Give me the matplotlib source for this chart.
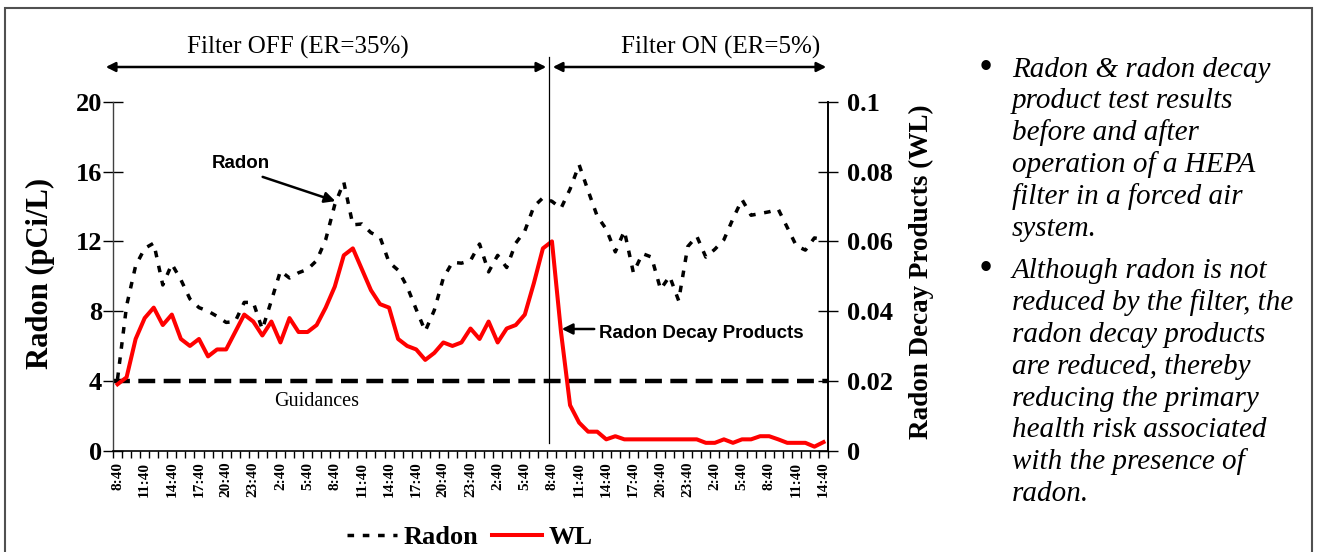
import numpy as np
import matplotlib
matplotlib.use('Agg')
import matplotlib.pyplot as plt
from matplotlib.lines import Line2D
from matplotlib.patches import Rectangle, FancyArrowPatch

W, H = 1317, 552

# hourly readings, 8:40 day 1 -> 14:40 day 4
radon = [4.1, 8.3, 10.6, 11.6, 11.9, 9.5, 10.7, 9.8, 8.7, 8.2,
         8.0, 7.7, 7.35, 7.4, 8.5, 8.5, 6.95, 8.6, 10.3, 9.9,
         10.2, 10.4, 10.9, 12.1, 14.1, 15.4, 12.95, 13.0, 12.5, 12.25,
         10.8, 10.35, 9.4, 8.1, 6.85, 8.05, 9.9, 10.8, 10.75, 10.9,
         11.85, 10.25, 11.2, 10.5, 11.9, 12.6, 14.0, 14.5, 14.3, 13.9,
         15.0, 16.4, 14.9, 13.45, 12.7, 11.4, 12.6, 10.2, 11.3, 11.1,
         9.25, 10.0, 8.6, 11.7, 12.3, 11.1, 11.55, 12.1, 13.3, 14.4,
         13.5, 13.6, 13.7, 13.85, 12.8, 11.75, 11.5, 12.2, 12.1]

wl = [0.019, 0.021, 0.032, 0.038, 0.041, 0.036, 0.039, 0.032, 0.030, 0.032,
      0.027, 0.029, 0.029, 0.034, 0.039, 0.037, 0.033, 0.037, 0.031, 0.038,
      0.034, 0.034, 0.036, 0.041, 0.047, 0.056, 0.058, 0.052, 0.046, 0.042,
      0.041, 0.032, 0.030, 0.029, 0.026, 0.028, 0.031, 0.030, 0.031, 0.035,
      0.032, 0.037, 0.031, 0.035, 0.036, 0.039, 0.048, 0.058, 0.060, 0.034,
      0.013, 0.008, 0.0054, 0.0054, 0.0032, 0.0041, 0.0032, 0.0032, 0.0032, 0.0032,
      0.0032, 0.0032, 0.0032, 0.0032, 0.0032, 0.0022, 0.0022, 0.0032, 0.0022, 0.0032,
      0.0032, 0.0041, 0.0041, 0.0032, 0.0022, 0.0022, 0.0022, 0.0011, 0.0024]

time_labels = ['8:40', '11:40', '14:40', '17:40', '20:40', '23:40', '2:40', '5:40',
               '8:40', '11:40', '14:40', '17:40', '20:40', '23:40', '2:40', '5:40',
               '8:40', '11:40', '14:40', '17:40', '20:40', '23:40', '2:40', '5:40',
               '8:40', '11:40', '14:40']
LABEL_STEP = 3
GUIDANCE = 4          # pCi/L  (= 0.02 WL)

bullets = [
    ['Radon & radon decay', 'product test results', 'before and after',
     'operation of a HEPA', 'filter in a forced air', 'system.'],
    ['Although radon is not', 'reduced by the filter, the', 'radon decay products',
     'are reduced, thereby', 'reducing the primary', 'health risk associated',
     'with the presence of', 'radon.'],
]

SERIF = 'Liberation Serif'
SANS = 'Liberation Sans'
RADON_DASH = (1.9, 2.5)


def fx(px):
    return px / W


def fy(py):
    return 1 - py / H


fig = plt.figure(figsize=(W / 100, H / 100), dpi=100)
ax = fig.add_axes([fx(113), fy(450.5), (828 - 113) / W, (450.5 - 102) / H])
ax2 = ax.twinx()

x = np.arange(len(radon))

# guidance level
ax.axhline(GUIDANCE, color='black', lw=3.2, dashes=(3.8, 1.9), zorder=2)
ax.plot(x, radon, color='black', lw=2.5, dashes=RADON_DASH, zorder=3)
ax2.plot(x, wl, color='#ff0000', lw=2.9, zorder=3)

ax.set_xlim(-0.5, len(radon) - 0.5)
ax.set_ylim(0, 20)
ax2.set_ylim(0, 0.1)

# spines
ax.spines['top'].set_visible(False)
ax.spines['right'].set_visible(False)
ax.spines['left'].set_color('#404040')
ax.spines['left'].set_linewidth(1.0)
ax.spines['bottom'].set_linewidth(1.2)
for s in ('top', 'left', 'bottom'):
    ax2.spines[s].set_visible(False)
ax2.spines['right'].set_linewidth(1.4)

# y ticks
ax.set_yticks([0, 4, 8, 12, 16, 20])
ax.set_yticklabels(['0', '4', '8', '12', '16', '20'], fontfamily=SERIF,
                   fontweight='bold', fontsize=19)
ax.tick_params(axis='y', direction='inout', length=14, width=1.0, pad=1)
ax2.set_yticks([0, 0.02, 0.04, 0.06, 0.08, 0.1])
ax2.set_yticklabels(['0', '0.02', '0.04', '0.06', '0.08', '0.1'], fontfamily=SERIF,
                    fontweight='bold', fontsize=19)
ax2.tick_params(axis='y', direction='inout', length=14, width=1.0, pad=7)

# x ticks: marks on category boundaries, labels every third hour
ax.set_xticks(np.arange(-0.5, len(radon), 1))
ax.set_xticklabels([])
ax.tick_params(axis='x', which='major', direction='out', length=5, width=1.0)
ax.set_xticks(np.arange(0, len(radon), LABEL_STEP), minor=True)
ax.set_xticklabels(time_labels, minor=True, rotation=90, fontfamily=SERIF,
                   fontweight='bold', fontsize=11)
ax.tick_params(axis='x', which='minor', length=0, pad=8)

# axis titles
fig.text(fx(40), fy(273), 'Radon (pCi/L)', rotation=90, ha='center', va='center',
         fontfamily=SERIF, fontweight='bold', fontsize=22)
fig.text(fx(921), fy(272), 'Radon Decay Products (WL)', rotation=90, ha='center',
         va='center', fontfamily=SERIF, fontweight='bold', fontsize=19.5)

# annotations inside the plot
fig.text(fx(317), fy(401), 'Guidances', ha='center', va='center',
         fontfamily=SERIF, fontsize=14.5)
fig.text(fx(241), fy(163), 'Radon', ha='center', va='center',
         fontfamily=SANS, fontweight='bold', fontsize=13.5)
fig.patches.append(FancyArrowPatch((fx(260), fy(176)), (fx(338), fy(202)),
                                   transform=fig.transFigure, arrowstyle='-|>',
                                   mutation_scale=16, lw=1.8, color='black'))
fig.text(fx(599), fy(333), 'Radon Decay Products', ha='left', va='center',
         fontfamily=SANS, fontweight='bold', fontsize=13.5)
fig.patches.append(FancyArrowPatch((fx(597), fy(329)), (fx(559), fy(329)),
                                   transform=fig.transFigure, arrowstyle='-|>',
                                   mutation_scale=16, lw=1.8, color='black'))

# filter periods
fig.text(fx(298), fy(47), 'Filter OFF (ER=35%)', ha='center', va='center',
         fontfamily=SERIF, fontsize=18)
fig.text(fx(721), fy(47), 'Filter ON (ER=5%)', ha='center', va='center',
         fontfamily=SERIF, fontsize=18)
fig.patches.append(FancyArrowPatch((fx(103), fy(67)), (fx(549), fy(67)),
                                   transform=fig.transFigure, arrowstyle='<|-|>',
                                   mutation_scale=14, lw=1.8, color='black'))
fig.patches.append(FancyArrowPatch((fx(550), fy(67)), (fx(829), fy(67)),
                                   transform=fig.transFigure, arrowstyle='<|-|>',
                                   mutation_scale=14, lw=1.8, color='black'))
fig.lines.append(Line2D([fx(549), fx(549)], [fy(57), fy(443)],
                        transform=fig.transFigure, color='black', lw=0.9))

# legend
handles = [Line2D([], [], color='black', lw=2.5, dashes=RADON_DASH),
           Line2D([], [], color='#ff0000', lw=2.9)]
fig.legend(handles, ['Radon', 'WL'], loc='center', bbox_to_anchor=(fx(470), fy(537)),
           ncol=2, frameon=False, handlelength=1.9, handletextpad=0.25,
           columnspacing=0.5, prop={'family': SERIF, 'weight': 'bold', 'size': 19})

# bullet text
starts = [76.7, 278.3]
for block, y0 in zip(bullets, starts):
    fig.text(fx(980), fy(y0), '\u2022', ha='left', va='baseline',
             fontfamily=SERIF, fontweight='bold', fontsize=25)
    for k, line in enumerate(block):
        fig.text(fx(1012), fy(y0 + 31.8 * k), line, ha='left', va='baseline',
                 fontfamily=SERIF, style='italic', fontsize=21)

# outer frame
fig.patches.append(Rectangle((fx(5), -0.1), (1312 - 5) / W, fy(8) + 0.1,
                             transform=fig.transFigure, fill=False,
                             edgecolor='#505050', lw=1.5))

fig.savefig('out.png', dpi=100)
